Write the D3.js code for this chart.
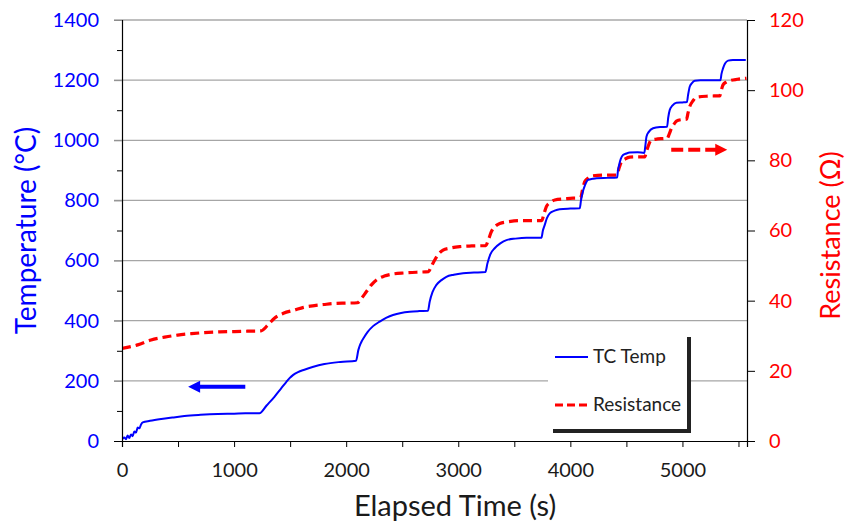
<!DOCTYPE html>
<html>
<head>
<meta charset="utf-8">
<script src="https://cdn.jsdelivr.net/npm/d3@7"></script>
<style>
  body { margin: 0; background: #fff; }
  svg { font-family: Lato, "Open Sans", sans-serif; }
</style>
</head>
<body>
<div id="chart"></div>
<script>
// ---- data ----
const tcTime = [0, 20, 35, 50, 65, 80, 95, 110, 125, 140, 155, 170, 185, 250, 350, 450, 557, 700, 854, 1000, 1100, 1226,
  1290, 1360, 1420, 1465, 1495, 1525, 1570, 1627, 1700, 1806, 1950, 2088,
  2109, 2130, 2160, 2192, 2240, 2299, 2360, 2418, 2490, 2567, 2650, 2730,
  2745, 2770, 2805, 2850, 2894, 2960, 3043, 3140, 3242,
  3260, 3285, 3325, 3375, 3430, 3510, 3608, 3742,
  3755, 3771, 3790, 3816, 3860, 3905, 4000, 4084,
  4095, 4108, 4130, 4158, 4200, 4233, 4330, 4417,
  4425, 4435, 4450, 4470, 4500, 4530, 4600, 4660,
  4670, 4679, 4700, 4738, 4800, 4863,
  4873, 4887, 4910, 4946, 5000, 5040,
  5050, 5065, 5085, 5110, 5160, 5214, 5339,
  5348, 5362, 5380, 5407, 5450, 5511, 5565];
const tcTemp = [5, 12, 6, 18, 10, 22, 16, 32, 28, 45, 42, 55, 62, 67, 73, 78, 83, 87, 90, 91, 92, 92,
  118, 147, 175, 196, 209, 219, 229, 237, 246, 256, 263, 267,
  303, 325, 345, 363, 382, 397, 410, 419, 426, 430, 432, 433,
  463, 495, 519, 535, 546, 553, 558, 560, 562,
  590, 620, 641, 657, 668, 673, 676, 676,
  700, 718, 740, 757, 766, 771, 773, 774,
  800, 824, 850, 868, 872, 874, 875, 876,
  900, 918, 938, 951, 956, 959, 960, 958,
  985, 1012, 1028, 1040, 1044, 1045,
  1075, 1101, 1115, 1125, 1126, 1127,
  1150, 1178, 1190, 1198, 1200, 1200, 1200,
  1220, 1239, 1255, 1265, 1267, 1267, 1267];

const resTime = [0, 140, 259, 380, 497, 620, 735, 870, 1003, 1120, 1240,
  1300, 1360, 1440, 1538, 1620, 1717, 1800, 1895, 2000, 2100,
  2140, 2181, 2225, 2270, 2340, 2418, 2520, 2627, 2735,
  2760, 2790, 2825, 2864, 2930, 3013, 3120, 3245,
  3270, 3296, 3330, 3370, 3450, 3549, 3650, 3745,
  3765, 3786, 3820, 3861, 3950, 4024, 4090,
  4108, 4128, 4160, 4203, 4300, 4415,
  4435, 4456, 4490, 4530, 4600, 4664,
  4678, 4693, 4723, 4780, 4827, 4865,
  4882, 4902, 4925, 4946, 4990, 5036,
  5050, 5065, 5095, 5125, 5230, 5333,
  5347, 5362, 5390, 5422, 5490, 5571];
const resOhm = [26.4, 27.4, 28.8, 29.6, 30.2, 30.6, 30.9, 31.1, 31.2, 31.3, 31.4,
  33.0, 35.0, 36.4, 37.3, 38.1, 38.6, 38.9, 39.2, 39.3, 39.4,
  40.8, 42.6, 44.5, 45.9, 47.0, 47.6, 47.9, 48.1, 48.3,
  49.8, 51.6, 53.3, 54.4, 55.0, 55.4, 55.6, 55.7,
  57.5, 59.7, 61.2, 62.0, 62.5, 62.8, 62.8, 62.8,
  64.8, 66.8, 68.0, 68.7, 69.0, 69.2, 69.2,
  71.5, 73.9, 75.0, 75.6, 75.8, 75.8,
  77.8, 79.6, 80.4, 80.9, 81.0, 81.0,
  82.4, 83.9, 85.8, 86.1, 86.2, 86.3,
  87.5, 89.1, 90.3, 91.2, 91.6, 91.7,
  93.5, 95.3, 97.0, 98.0, 98.3, 98.4,
  100.0, 101.5, 102.3, 102.7, 103.1, 103.4];

const timeTicks = [0, 500, 1000, 1500, 2000, 2500, 3000, 3500, 4000, 4500, 5000, 5500];
const tempTicks = [0, 200, 400, 600, 800, 1000, 1200, 1400];
const tempMinor = [100, 300, 500, 700, 900, 1100, 1300];
const resTicks = [0, 20, 40, 60, 80, 100, 120];
const seriesNames = ["TC Temp", "Resistance"];

// ---- layout ----
const width = 847, height = 528;
const margin = {top: 20, right: 100, bottom: 87, left: 122};
const blue = "#0000ff", red = "#ff0000";

const svg = d3.select("#chart").append("svg")
  .attr("width", width)
  .attr("height", height);

const x = d3.scaleLinear().domain([0, 5576]).range([margin.left, width - margin.right]);
const yT = d3.scaleLinear().domain([0, 1400]).range([height - margin.bottom, margin.top]);
const yR = d3.scaleLinear().domain([0, 120]).range([height - margin.bottom, margin.top]);

// gridlines (from the temperature axis)
svg.append("g")
  .selectAll("line")
  .data(tempTicks.filter(d => d > 0))
  .join("line")
  .attr("x1", margin.left - 8)
  .attr("x2", width - margin.right)
  .attr("y1", d => yT(d)).attr("y2", d => yT(d))
  .attr("stroke", d => d === 1400 ? "#7f7f7f" : "#a6a6a6")
  .attr("stroke-width", 1.2);

// series
const tcData = tcTime.map((t, i) => [t, tcTemp[i]]);
const resData = resTime.map((t, i) => [t, resOhm[i]]);

svg.append("defs").append("clipPath").attr("id", "plot")
  .append("rect")
  .attr("x", margin.left).attr("y", margin.top - 2)
  .attr("width", width - margin.right - margin.left)
  .attr("height", height - margin.bottom - margin.top + 2);

const plot = svg.append("g").attr("clip-path", "url(#plot)");

plot.append("path")
  .datum(resData)
  .attr("fill", "none")
  .attr("stroke", red)
  .attr("stroke-width", 3.2)
  .attr("stroke-dasharray", "9,5")
  .attr("d", d3.line().x(d => x(d[0])).y(d => yR(d[1])).curve(d3.curveMonotoneX));

plot.append("path")
  .datum(tcData)
  .attr("fill", "none")
  .attr("stroke", blue)
  .attr("stroke-width", 2)
  .attr("d", d3.line().x(d => x(d[0])).y(d => yT(d[1])).curve(d3.curveMonotoneX));

// axes
const fmt = d3.format("d");
const xAxis = svg.append("g")
  .attr("transform", `translate(0, ${height - margin.bottom})`)
  .call(d3.axisBottom(x).tickValues(timeTicks).tickSize(6).tickPadding(16)
    .tickFormat(d => d % 1000 === 0 ? fmt(d) : ""));

const yAxisL = svg.append("g")
  .attr("transform", `translate(${margin.left}, 0)`)
  .call(d3.axisLeft(yT).tickValues(tempTicks).tickSize(8).tickPadding(15).tickFormat(fmt));

svg.append("g")
  .attr("transform", `translate(${margin.left}, 0)`)
  .call(d3.axisLeft(yT).tickValues(tempMinor).tickSize(5).tickFormat(""))
  .call(g => g.select(".domain").remove());

const yAxisR = svg.append("g")
  .attr("transform", `translate(${width - margin.right}, 0)`)
  .call(d3.axisRight(yR).tickValues(resTicks).tickSize(8).tickPadding(14).tickFormat(fmt));

[xAxis, yAxisL, yAxisR].forEach(g => {
  g.selectAll(".domain").attr("stroke", "#000").attr("stroke-width", 1.2);
  g.selectAll(".tick text").attr("font-size", 20).attr("font-family", "Lato, sans-serif");
});
xAxis.selectAll(".tick text").attr("fill", "#1a1a1a");
yAxisL.selectAll(".tick text").attr("fill", blue);
yAxisL.selectAll(".tick line").attr("stroke", d => d === 0 ? "#000" : "#8c8c8c");
yAxisR.selectAll(".tick text").attr("fill", red);

// axis titles
svg.append("text")
  .attr("transform", `translate(36, ${(yT(0) + yT(1400)) / 2}) rotate(-90)`)
  .attr("text-anchor", "middle")
  .attr("fill", blue)
  .attr("font-size", 28)
  .text("Temperature (°C)");

svg.append("text")
  .attr("transform", `translate(840, ${(yR(0) + yR(120)) / 2 + 5}) rotate(-90)`)
  .attr("text-anchor", "middle")
  .attr("fill", red)
  .attr("font-size", 27)
  .text("Resistance (Ω)");

svg.append("text")
  .attr("x", 455)
  .attr("y", 516)
  .attr("text-anchor", "middle")
  .attr("fill", "#1a1a1a")
  .attr("font-size", 29)
  .text("Elapsed Time (s)");

// direction arrows
function arrow(t0, t1, v, yScale, color, dashed) {
  const y = yScale(v);
  const dir = Math.sign(x(t1) - x(t0));
  const tip = x(t1);
  svg.append("line")
    .attr("x1", x(t0)).attr("x2", tip - dir * 10)
    .attr("y1", y).attr("y2", y)
    .attr("stroke", color).attr("stroke-width", 4)
    .attr("stroke-dasharray", dashed ? "12,5" : null);
  svg.append("path")
    .attr("d", `M${tip},${y} L${tip - dir * 12},${y - 6} L${tip - dir * 12},${y + 6} Z`)
    .attr("fill", color);
}
arrow(1100, 590, 180, yT, blue, false);
arrow(4900, 5400, 83, yR, red, true);

// legend with shadow
const lg = svg.append("g");
lg.append("rect")
  .attr("x", 548).attr("y", 337)
  .attr("width", 141).attr("height", 94)
  .attr("fill", "#fff");
lg.append("path")
  .attr("d", "M689,337 L689,431 L553,431")
  .attr("fill", "none")
  .attr("stroke", "#222")
  .attr("stroke-width", 4);

seriesNames.forEach((name, i) => {
  const yy = 357 + i * 48;
  lg.append("line")
    .attr("x1", 555).attr("x2", 588)
    .attr("y1", yy).attr("y2", yy)
    .attr("stroke", i === 0 ? blue : red)
    .attr("stroke-width", i === 0 ? 2 : 3)
    .attr("stroke-dasharray", i === 0 ? null : "8,4");
  lg.append("text")
    .attr("x", 593).attr("y", yy + 6)
    .attr("font-size", 19)
    .attr("fill", "#222")
    .text(name);
});
</script>
</body>
</html>
